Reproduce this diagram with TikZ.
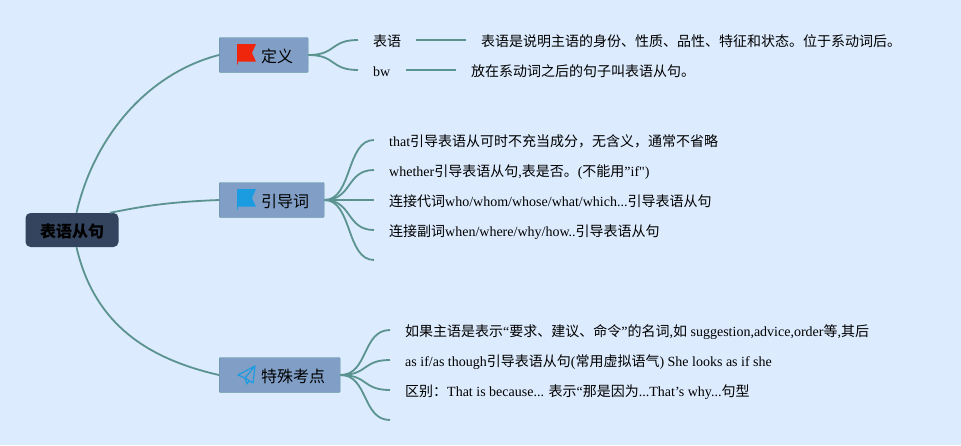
\documentclass[tikz,border=0pt]{standalone}
\usepackage{fontspec}
\setmainfont{Liberation Serif}
\newfontfamily\cjk{Noto Sans CJK SC}
\newfontfamily\rawserif{Liberation Serif}
\newcommand{\zh}[1]{{\cjk #1}}

\definecolor{bgblue}{HTML}{DCEBFD}
\definecolor{boxblue}{HTML}{819FC6}
\definecolor{branchgreen}{HTML}{5A938F}
\definecolor{rootblue}{HTML}{34435E}
\definecolor{flagred}{HTML}{F0260C}
\definecolor{flagblue}{HTML}{1B9CE0}

\tikzstyle{rootnode}=[rectangle,
                         rounded corners=5pt,
                         fill=rootblue,
                         minimum width=93pt,
                         minimum height=34pt,
                         inner sep=0pt,
                         text height=14pt,
                         text depth=0pt,
                         font=\fontsize{16}{18}\selectfont\bfseries]
\tikzstyle{topicnode}=[rectangle,
                         rounded corners=1pt,
                         draw=branchgreen,
                         fill=boxblue,
                         anchor=west,
                         minimum height=35pt,
                         inner xsep=15pt,
                         inner ysep=0pt,
                         text height=14pt,
                         text depth=0pt,
                         font=\fontsize{16}{18}\selectfont]
\tikzstyle{leafnode}=[anchor=west,
                         inner sep=0pt,
                         text height=13.6pt,
                         text depth=0pt,
                         font=\fontsize{14}{16}\selectfont]
\tikzstyle{branch}=[draw=branchgreen, line width=1.8pt]

\newcommand{\flagicon}[2]{
    \fill [#2] (#1) ++(0,-11) -- ++(0,21) -- ++(0.8,-1) -- ++(0,-2.3) -- ++(18.2,0)
        -- ++(-4,-8.85) -- ++(4,-8.85) -- cycle;
}

\begin{document}
\begin{tikzpicture}[x=1pt,y=-1pt]
    \fill [bgblue] (0,0) rectangle (961,445);
    \useasboundingbox (0,0) rectangle (961,445);

    \node [rootnode] (root) at (72,230) {\zh{表语从句}};

    \node [topicnode] (define) at (219,55) {\hspace*{27pt}\zh{定义}};
    \node [topicnode] (intro) at (219,200) {\hspace*{27pt}\zh{引导词}};
    \node [topicnode] (special) at (219,375) {\hspace*{27pt}\zh{特殊考点}};

    % icons
    \flagicon{237,55}{flagred}
    \flagicon{237,200}{flagblue}
    \draw [flagblue, line width=1.2pt, line join=round]
        (238,375) -- (255,366) -- (253,383) -- (245,378) -- cycle
        (245,378) -- (255,366)
        (245,378) -- (247,384) -- (249.5,380.5);

    % first branch
    \node [leafnode] (term) at (373,40) {\zh{表语}};
    \node [leafnode] (termtxt) at (481,40) {\zh{表语是说明主语的身份、性质、品性、特征和状态。位于系动词后。}};
    \node [leafnode] (bw) at (373,70) {bw};
    \node [leafnode] (bwtxt) at (471,70) {\zh{放在系动词之后的句子叫表语从句。}};

    % second branch
    \node [leafnode] (that) at (389,140) {that\zh{引导表语从可时不充当成分，无含义，通常不省略}};
    \node [leafnode] (whether) at (389,170) {whether\zh{引导表语从句},\zh{表是否。}(\zh{不能用}”if{\rawserif "})};
    \node [leafnode] (pron) at (389,200) {\zh{连接代词}who/whom/whose/what/which...\zh{引导表语从句}};
    \node [leafnode] (adv) at (389,230) {\zh{连接副词}when/where/why/how..\zh{引导表语从句}};
    \coordinate (introend) at (374,260);

    % third branch
    \node [leafnode] (noun) at (405,330) {\zh{如果主语是表示}“\zh{要求、建议、命令}”\zh{的名词},\zh{如} suggestion,advice,order\zh{等},\zh{其后}};
    \node [leafnode] (asif) at (405,360) {as if/as though\zh{引导表语从句}(\zh{常用虚拟语气}) She looks as if she};
    \node [leafnode] (diff) at (405,390) {\zh{区别：}That is because... \zh{表示}“\zh{那是因为}...That’s why...\zh{句型}};
    \coordinate (specialend) at (390,420);

    % main connectors
    \draw [branch] ([xshift=4.5pt]root.north) .. controls +(18,-78) and +(-70,18) .. (define.west);
    \draw [branch] ([xshift=38pt]root.north) .. controls +(35,-7) and +(-50,2) .. (intro.west);
    \draw [branch] ([xshift=4.5pt]root.south) .. controls +(18,78) and +(-70,-16) .. (special.west);

    % connectors to the leaves
    \draw [branch] (define.east) .. controls +(28,0) and +(-28,0) .. ([xshift=-15pt]term.west);
    \draw [branch] (define.east) .. controls +(28,0) and +(-28,0) .. ([xshift=-15pt]bw.west);
    \draw [branch] ([xshift=15pt]term.east) -- ([xshift=-15pt]termtxt.west);
    \draw [branch] ([xshift=15pt]bw.east) -- ([xshift=-15pt]bwtxt.west);

    \draw [branch] (intro.east) .. controls +(28,0) and +(-28,0) .. ([xshift=-15pt]that.west);
    \draw [branch] (intro.east) .. controls +(28,0) and +(-28,0) .. ([xshift=-15pt]whether.west);
    \draw [branch] (intro.east) -- ([xshift=-15pt]pron.west);
    \draw [branch] (intro.east) .. controls +(28,0) and +(-28,0) .. ([xshift=-15pt]adv.west);
    \draw [branch] (intro.east) .. controls +(28,0) and +(-28,0) .. (introend);

    \draw [branch] (special.east) .. controls +(28,0) and +(-28,0) .. ([xshift=-15pt]noun.west);
    \draw [branch] (special.east) .. controls +(28,0) and +(-28,0) .. ([xshift=-15pt]asif.west);
    \draw [branch] (special.east) .. controls +(28,0) and +(-28,0) .. ([xshift=-15pt]diff.west);
    \draw [branch] (special.east) .. controls +(28,0) and +(-28,0) .. (specialend);
\end{tikzpicture}
\end{document}
